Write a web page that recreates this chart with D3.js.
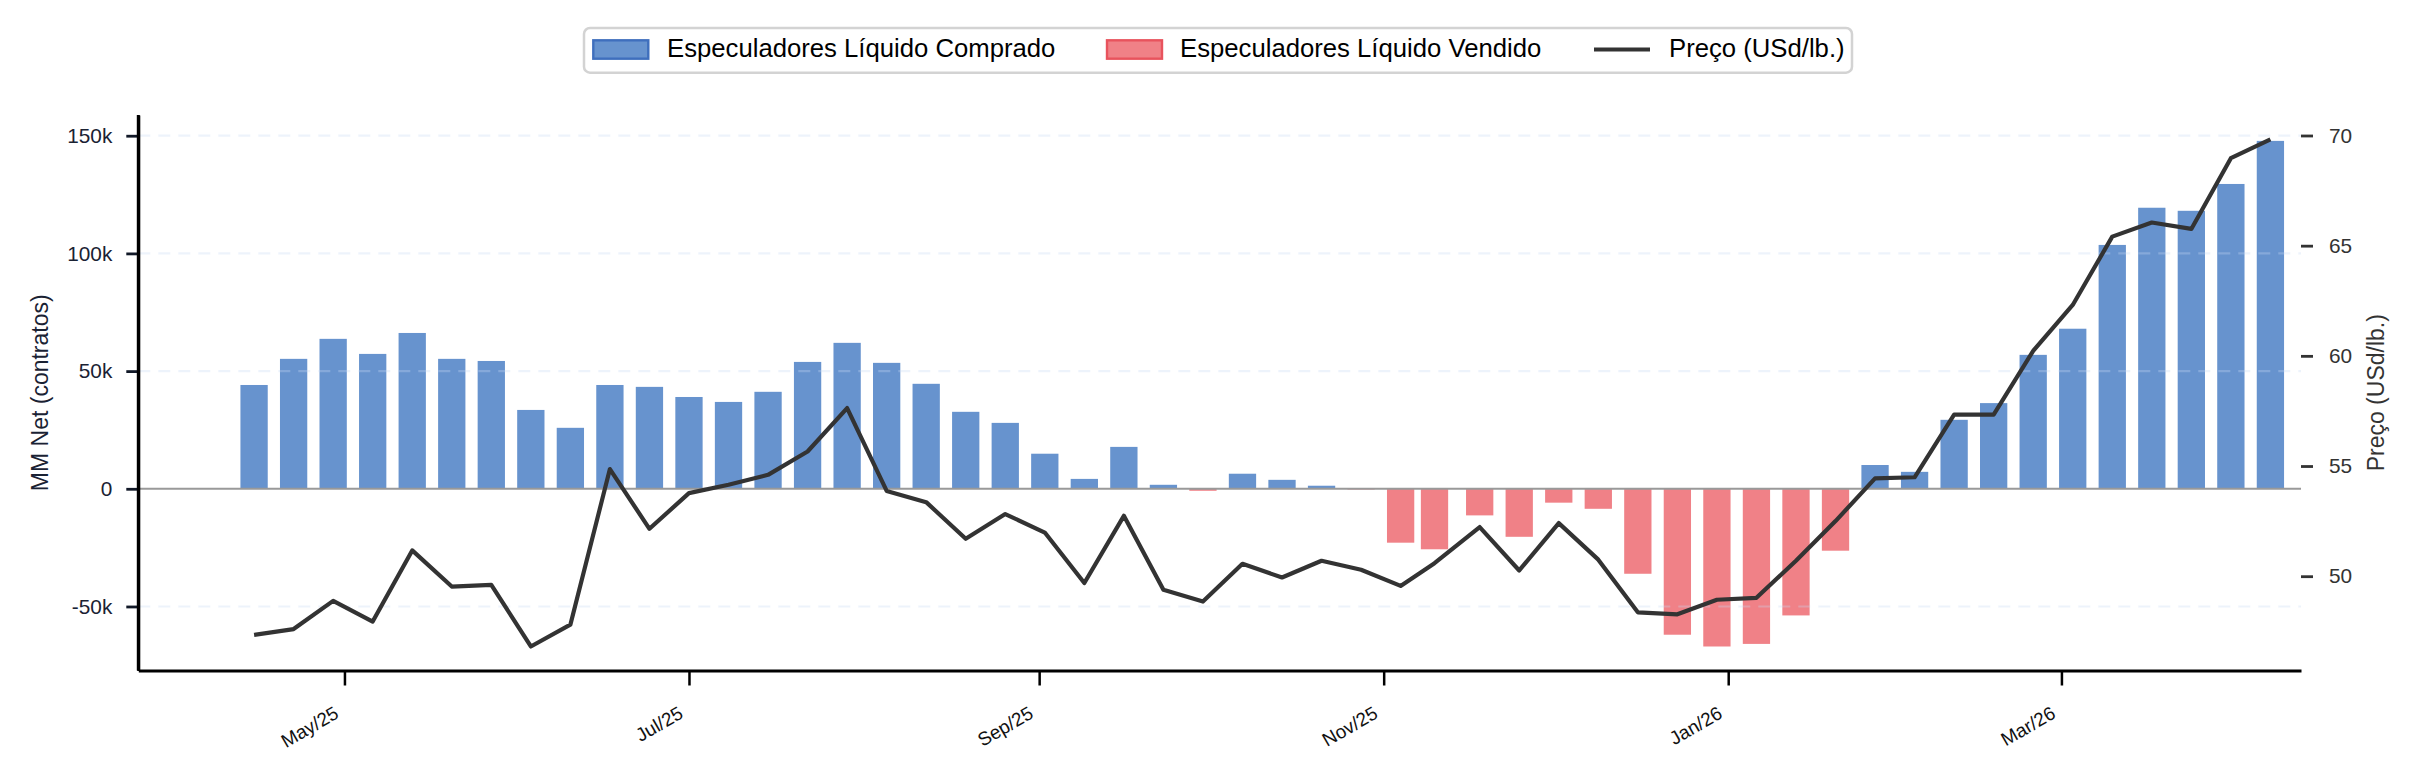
<!DOCTYPE html>
<html>
<head>
<meta charset="utf-8">
<script src="https://cdn.jsdelivr.net/npm/d3@7"></script>
<style>
  body { margin: 0; background: #fff; }
  text { font-family: "Liberation Sans", Arial, sans-serif; }
</style>
</head>
<body>
<div id="chart"></div>
<script>
// weekly CoT report dates (Nov 10 was a Monday report because of the holiday)
const dates = [
  '2025-04-15','2025-04-22','2025-04-29','2025-05-06','2025-05-13','2025-05-20','2025-05-27',
  '2025-06-03','2025-06-10','2025-06-17','2025-06-24','2025-07-01','2025-07-08','2025-07-15',
  '2025-07-22','2025-07-29','2025-08-05','2025-08-12','2025-08-19','2025-08-26','2025-09-02',
  '2025-09-09','2025-09-16','2025-09-23','2025-09-30','2025-10-07','2025-10-14','2025-10-21',
  '2025-10-28','2025-11-04','2025-11-10','2025-11-18','2025-11-25','2025-12-02','2025-12-09',
  '2025-12-16','2025-12-23','2025-12-30','2026-01-06','2026-01-13','2026-01-20','2026-01-27',
  '2026-02-03','2026-02-10','2026-02-17','2026-02-24','2026-03-03','2026-03-10','2026-03-17',
  '2026-03-24','2026-03-31','2026-04-07'
];

// managed money net position (contracts)
const netPositions = [
  44100, 55200, 63700, 57300, 66200, 55200, 54300, 33500, 25900, 44100,
  43300, 39000, 36900, 41200, 53900, 62000, 53500, 44600, 32700, 28000,
  14900, 4200, 17800, 1700, -850, 6400, 3800, 1300, -300, -22900,
  -25700, -11300, -20400, -5900, -8500, -36100, -62000, -67000, -65900, -53800,
  -26300, 10100, 7200, 29300, 36400, 56900, 68000, 103600, 119400, 118100,
  129500, 147800
];

// price (USd/lb.)
const prices = [
  47.34, 47.60, 48.88, 47.94, 51.17, 49.53, 49.61, 46.81, 47.80, 54.86,
  52.15, 53.77, 54.15, 54.60, 55.66, 57.63, 53.87, 53.36, 51.70, 52.82,
  51.98, 49.69, 52.74, 49.38, 48.85, 50.56, 49.94, 50.70, 50.29, 49.56,
  50.59, 52.23, 50.26, 52.41, 50.75, 48.36, 48.27, 48.93, 49.02, 50.70,
  52.50, 54.44, 54.49, 57.33, 57.33, 60.23, 62.31, 65.41, 66.05, 65.76,
  68.97, 69.82
];

const monthTicks = ['2025-05-01','2025-07-01','2025-09-01','2025-11-01','2026-01-01','2026-03-01'];
const monthLabels = ['May/25','Jul/25','Sep/25','Nov/25','Jan/26','Mar/26'];
const netTicks = [-50000, 0, 50000, 100000, 150000];
const priceTicks = [50, 55, 60, 65, 70];
const legendLabels = ['Especuladores Líquido Comprado', 'Especuladores Líquido Vendido', 'Preço (USd/lb.)'];

const width = 2416, height = 781;
const margin = {top: 115, right: 115, bottom: 110.5, left: 138.3};
const plotBottom = height - margin.bottom, plotRight = width - margin.right;

const blue = '#6793CE', red = '#F08187', lineColor = '#333333';

const parse = d3.utcParse('%Y-%m-%d');
const data = dates.map((d, i) => ({date: parse(d), net: netPositions[i], price: prices[i]}));

const x = d3.scaleUtc()
  .domain([new Date(Date.UTC(2025, 2, 25, 12)), new Date(Date.UTC(2026, 3, 12, 10))])
  .range([margin.left, plotRight]);
const y = d3.scaleLinear().domain([-77200, 158800]).range([plotBottom, margin.top]);
const yR = d3.scaleLinear().domain([45.72, 70.93]).range([plotBottom, margin.top]);

const svg = d3.select('#chart').append('svg')
  .attr('width', width).attr('height', height)
  .attr('viewBox', `0 0 ${width} ${height}`);

// bars
const half = d => x(d3.utcHour.offset(d, 58)) - x(d);
svg.append('g').selectAll('rect').data(data).enter()
  .append('rect')
  .attr('x', d => x(d.date) - half(d.date))
  .attr('width', d => 2 * half(d.date))
  .attr('y', d => y(Math.max(0, d.net)))
  .attr('height', d => Math.abs(y(d.net) - y(0)))
  .attr('fill', d => d.net >= 0 ? blue : red);

// grid (drawn over bars, faint)
svg.append('g').selectAll('line').data(netTicks.filter(t => t !== 0)).enter()
  .append('line')
  .attr('x1', margin.left).attr('x2', plotRight)
  .attr('y1', d => y(d)).attr('y2', d => y(d))
  .attr('stroke', '#c8dbf2').attr('stroke-opacity', 0.32)
  .attr('stroke-width', 2.2).attr('stroke-dasharray', '12,8');

// zero line
svg.append('line')
  .attr('x1', margin.left).attr('x2', plotRight)
  .attr('y1', y(0)).attr('y2', y(0))
  .attr('stroke', '#999').attr('stroke-width', 2);

// price line
const line = d3.line().x(d => x(d.date)).y(d => yR(d.price));
svg.append('path').datum(data)
  .attr('d', line)
  .attr('fill', 'none')
  .attr('stroke', lineColor).attr('stroke-width', 4.2)
  .attr('stroke-linejoin', 'round');

// left axis
const gL = svg.append('g')
  .attr('transform', `translate(${margin.left},0)`)
  .call(d3.axisLeft(y).tickValues(netTicks)
    .tickFormat(d => d === 0 ? '0' : (d / 1000) + 'k')
    .tickSize(12).tickPadding(14).tickSizeOuter(0));
gL.select('.domain').attr('stroke', '#000').attr('stroke-width', 3);
gL.selectAll('.tick line').attr('stroke', '#111827').attr('stroke-width', 2.8);
gL.selectAll('.tick text').attr('font-size', 20.8).attr('fill', '#1a2233')
  .attr('font-family', '"Liberation Sans", Arial, sans-serif');

// right axis
const gR = svg.append('g')
  .attr('transform', `translate(${plotRight},0)`)
  .call(d3.axisRight(yR).tickValues(priceTicks)
    .tickSize(12).tickPadding(16).tickSizeOuter(0));
gR.select('.domain').remove();
gR.selectAll('.tick line').attr('stroke', '#333').attr('stroke-width', 2.8);
gR.selectAll('.tick text').attr('font-size', 20.8).attr('fill', '#333')
  .attr('font-family', '"Liberation Sans", Arial, sans-serif');

// bottom axis
const gB = svg.append('g')
  .attr('transform', `translate(0,${plotBottom})`)
  .call(d3.axisBottom(x).tickValues(monthTicks.map(parse))
    .tickFormat((d, i) => monthLabels[i])
    .tickSize(15).tickSizeOuter(0));
gB.select('.domain').attr('stroke', '#000').attr('stroke-width', 3);
gB.selectAll('.tick line').attr('stroke', '#000').attr('stroke-width', 2.5);
gB.selectAll('.tick text')
  .attr('font-size', 19).attr('fill', '#111')
  .attr('font-family', '"Liberation Sans", Arial, sans-serif')
  .attr('text-anchor', 'end')
  .attr('y', 0).attr('dy', 0)
  .attr('transform', 'translate(-5,46.5) rotate(-30)');

// left spine goes to the top of the plot
svg.append('line')
  .attr('x1', margin.left).attr('x2', margin.left)
  .attr('y1', margin.top).attr('y2', plotBottom)
  .attr('stroke', '#000').attr('stroke-width', 3);

// axis titles
svg.append('text')
  .attr('transform', `translate(40,${(margin.top + plotBottom) / 2}) rotate(-90)`)
  .attr('text-anchor', 'middle').attr('dominant-baseline', 'central')
  .attr('font-size', 23).attr('fill', '#1a2233')
  .text('MM Net (contratos)');
svg.append('text')
  .attr('transform', `translate(2376,${(margin.top + plotBottom) / 2}) rotate(-90)`)
  .attr('text-anchor', 'middle').attr('dominant-baseline', 'central')
  .attr('font-size', 23).attr('fill', '#333')
  .text('Preço (USd/lb.)');

// legend
const legend = svg.append('g');
legend.append('rect')
  .attr('x', 584).attr('y', 28).attr('width', 1268).attr('height', 44.7)
  .attr('rx', 6).attr('fill', '#fff')
  .attr('stroke', '#d3d3d3').attr('stroke-width', 2.5);
const legendX = [593.3, 1107, 1594];
const textX = [667, 1180, 1669];
legend.append('rect').attr('x', legendX[0]).attr('y', 40.3).attr('width', 55).attr('height', 18.4)
  .attr('fill', blue).attr('stroke', '#3f6fbd').attr('stroke-width', 2.4);
legend.append('rect').attr('x', legendX[1]).attr('y', 40.3).attr('width', 55).attr('height', 18.4)
  .attr('fill', red).attr('stroke', '#e8535d').attr('stroke-width', 2.4);
legend.append('line').attr('x1', legendX[2]).attr('x2', legendX[2] + 56)
  .attr('y1', 49.5).attr('y2', 49.5)
  .attr('stroke', lineColor).attr('stroke-width', 4.2);
legend.selectAll('text.lbl').data(legendLabels).enter()
  .append('text').attr('class', 'lbl')
  .attr('x', (d, i) => textX[i]).attr('y', 57.3)
  .attr('font-size', 25.7).attr('fill', '#000')
  .text(d => d);
</script>
</body>
</html>
